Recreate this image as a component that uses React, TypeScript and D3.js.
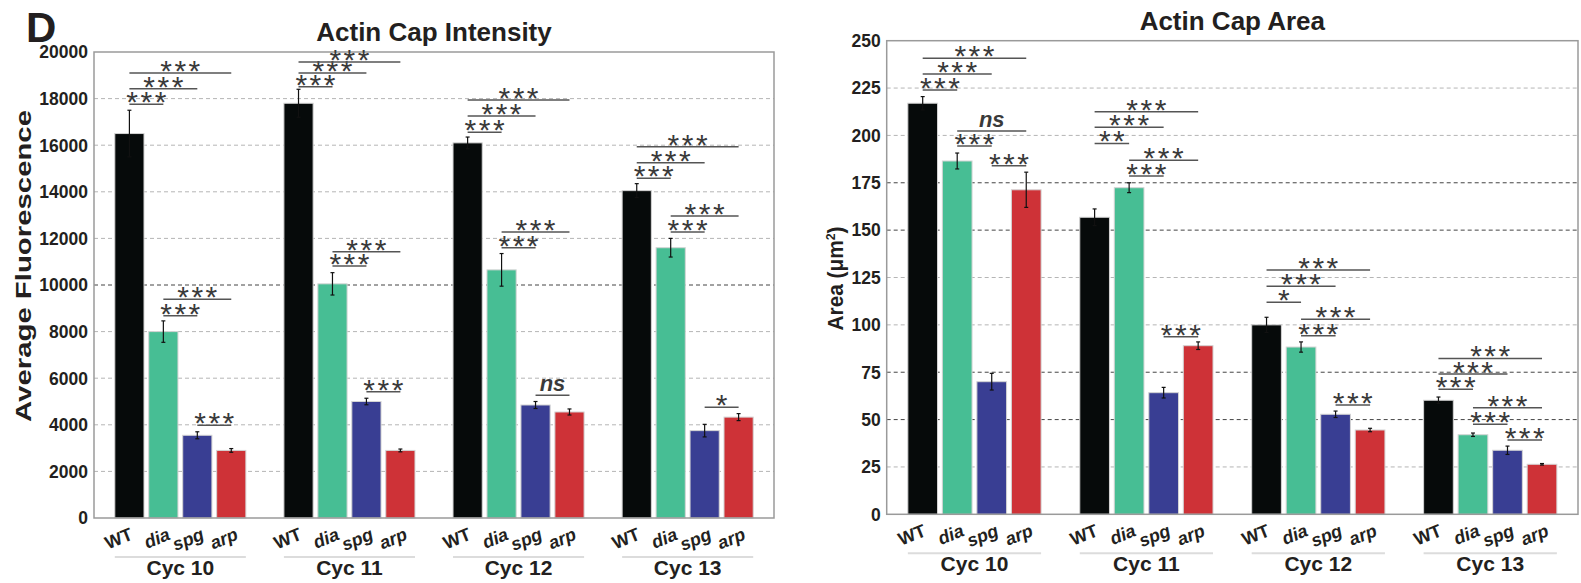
import * as d3 from "d3";

const cycles = ["Cyc 10", "Cyc 11", "Cyc 12", "Cyc 13"];
const genotypes = ["WT", "dia", "spg", "arp"];
const barColors = ["#060a0a", "#47be94", "#393e93", "#ce3237"];

// pairs compared by the brackets, same order as the rows below
const pairs: [number, number][] = [[0, 1], [0, 2], [0, 3], [1, 2], [1, 3], [2, 3]];

const intensityTicks = [0, 2000, 4000, 6000, 8000, 10000, 12000, 14000, 16000, 18000, 20000];
const intensityMean = [
  [16500, 8000, 3550, 2900],
  [17800, 10050, 5000, 2900],
  [16100, 10650, 4850, 4550],
  [14050, 11600, 3750, 4330],
];
const intensityErr = [
  [1000, 460, 150, 80],
  [600, 480, 140, 60],
  [250, 700, 150, 130],
  [300, 400, 270, 150],
];
const intensityBracket = [
  [17755, 18425, 19099, 8682, 9386, 3979],
  [18511, 19099, 19571, 10815, 11429, 5421],
  [16554, 17253, 17940, 11601, 12275, 5266],
  [14579, 15249, 15936, 12275, 12961, 4751],
];
const intensitySig = [
  ["***", "***", "***", "***", "***", "***"],
  ["***", "***", "***", "***", "***", "***"],
  ["***", "***", "***", "***", "***", "ns"],
  ["***", "***", "***", "***", "***", "*"],
];

const areaTicks = [0, 25, 50, 75, 100, 125, 150, 175, 200, 225, 250];
const areaMean = [
  [217, 186.5, 70, 171.3],
  [156.8, 172.4, 64.2, 89],
  [100, 88.3, 52.8, 44.5],
  [60.2, 42, 33.8, 26.4],
];
const areaErr = [
  [3.5, 4.2, 4.4, 9.3],
  [4.4, 2.6, 2.8, 2],
  [4, 2.7, 1.7, 0.9],
  [1.7, 0.9, 2.2, 0.4],
];
const areaBracket = [
  [224, 232.4, 240.7, 194.4, 202.3, 184],
  [195.8, 204.3, 212.5, 178.6, 186.9, 93.7],
  [111.9, 120.4, 129, 94.3, 102.9, 57.7],
  [66, 74.1, 82.3, 47.5, 56.3, 39.2],
];
const areaSig = [
  ["***", "***", "***", "***", "ns", "***"],
  ["**", "***", "***", "***", "***", "***"],
  ["*", "***", "***", "***", "***", "***"],
  ["***", "***", "***", "***", "***", "***"],
];

const FONT = "'Liberation Sans', Arial, sans-serif";
const INK = "#231f20";

type PanelProps = {
  left: number;
  right: number;
  top: number;
  bottom: number;
  title: string;
  yTitle: React.ReactNode;
  yTitleX: number;
  yTitleY: number;
  yTitleLength: number;
  ticks: number[];
  darkTicks: number[];
  mean: number[][];
  err: number[][];
  bracket: number[][];
  sig: string[][];
};

function Panel(p: PanelProps) {
  const max = p.ticks[p.ticks.length - 1];
  const y = d3.scaleLinear().domain([0, max]).range([p.bottom, p.top]);
  const outer = d3.scaleBand().domain(cycles).range([p.left, p.right]).paddingInner(0.225).paddingOuter(0.123);
  const inner = d3.scaleBand().domain(genotypes).range([0, outer.bandwidth()]).paddingInner(0.14);
  const cx = (c: number, g: number) => (outer(cycles[c]) ?? 0) + (inner(genotypes[g]) ?? 0) + inner.bandwidth() / 2;

  return (
    <g fontFamily={FONT}>
      <text x={(p.left + p.right) / 2} y={p.top - 11} textAnchor="middle" fontSize={26} fontWeight="bold" fill={INK}>
        {p.title}
      </text>
      <text
        transform={`translate(${p.yTitleX},${p.yTitleY}) rotate(-90)`}
        textAnchor="middle"
        fontSize={22}
        fontWeight="bold"
        fill={INK}
        textLength={p.yTitleLength}
        lengthAdjust="spacingAndGlyphs"
      >
        {p.yTitle}
      </text>

      {p.ticks.slice(1, -1).map((t) => (
        <line
          key={`g${t}`}
          x1={p.left}
          x2={p.right}
          y1={y(t)}
          y2={y(t)}
          stroke={p.darkTicks.includes(t) ? "#444" : "#b5b5b5"}
          strokeWidth={1}
          strokeDasharray="4,3"
        />
      ))}
      {p.ticks.map((t) => (
        <text key={`t${t}`} x={p.left - 6} y={y(t)} dy="0.36em" textAnchor="end" fontSize={17.5} fontWeight="bold" fill={INK}>
          {t}
        </text>
      ))}

      {cycles.map((cyc, c) =>
        genotypes.map((g, gi) => {
          const x = (outer(cyc) ?? 0) + (inner(g) ?? 0);
          const v = p.mean[c][gi];
          const e = p.err[c][gi];
          const mid = x + inner.bandwidth() / 2;
          return (
            <g key={`${cyc}-${g}`}>
              <rect x={x} y={y(v)} width={inner.bandwidth()} height={p.bottom - y(v)} fill={barColors[gi]} stroke="#d4d4d4" strokeWidth={1} />
              <line x1={mid} x2={mid} y1={y(v + e)} y2={y(v - e)} stroke="#111" strokeWidth={1.2} />
              <line x1={mid - 2} x2={mid + 2} y1={y(v + e)} y2={y(v + e)} stroke="#111" strokeWidth={1.2} />
              <line x1={mid - 2} x2={mid + 2} y1={y(v - e)} y2={y(v - e)} stroke="#111" strokeWidth={1.2} />
            </g>
          );
        })
      )}

      <rect x={p.left} y={p.top} width={p.right - p.left} height={p.bottom - p.top} fill="none" stroke="#9a9a9a" strokeWidth={1.5} />

      {cycles.map((cyc, c) =>
        pairs.map(([a, b], k) => {
          const ly = y(p.bracket[c][k]);
          const x1 = cx(c, a);
          const x2 = cx(c, b);
          const label = p.sig[c][k];
          const isNs = label === "ns";
          return (
            <g key={`b${c}-${k}`}>
              <line x1={x1} x2={x2} y1={ly} y2={ly} stroke="#555" strokeWidth={1.5} />
              <text
                x={(x1 + x2) / 2 + (isNs ? 0 : 1.2)}
                y={isNs ? ly - 4 : ly + 8}
                textAnchor="middle"
                fontSize={isNs ? 22 : 30}
                fontWeight={isNs ? "bold" : "normal"}
                fontStyle={isNs ? "italic" : "normal"}
                letterSpacing={isNs ? 0 : 2.5}
                fill="#3a3a3a"
              >
                {label}
              </text>
            </g>
          );
        })
      )}

      {cycles.map((cyc, c) => {
        const gx = outer(cyc) ?? 0;
        return (
          <g key={`x${cyc}`}>
            {genotypes.map((g, gi) => (
              <text
                key={g}
                transform={`translate(${cx(c, gi) + (gi === 0 ? 4.5 : 8)},${p.bottom + 21}) rotate(-22)`}
                textAnchor="end"
                fontSize={18}
                fontWeight="bold"
                fontStyle={gi === 0 ? "normal" : "italic"}
                fill={INK}
              >
                {g}
              </text>
            ))}
            <line x1={gx} x2={gx + outer.bandwidth()} y1={p.bottom + 39} y2={p.bottom + 39} stroke="#dcdcdc" strokeWidth={2} />
            <text x={gx + outer.bandwidth() / 2} y={p.bottom + 57} textAnchor="middle" fontSize={21} fontWeight="bold" fill={INK}>
              {cyc}
            </text>
          </g>
        );
      })}
    </g>
  );
}

export default function App() {
  return (
    <svg width={1581} height={583} style={{ position: "absolute", left: 0, top: 0, background: "#fff" }}>
      <text x={26} y={42} fontFamily={FONT} fontSize={42} fontWeight="bold" fill={INK}>
        D
      </text>
      <Panel
        left={94}
        right={774}
        top={52}
        bottom={518}
        title="Actin Cap Intensity"
        yTitle="Average Fluorescence"
        yTitleX={31}
        yTitleY={266}
        yTitleLength={312}
        ticks={intensityTicks}
        darkTicks={[10000]}
        mean={intensityMean}
        err={intensityErr}
        bracket={intensityBracket}
        sig={intensitySig}
      />
      <Panel
        left={886.7}
        right={1578}
        top={40.7}
        bottom={514.3}
        title="Actin Cap Area"
        yTitle={
          <>
            Area (μm<tspan dy="-8" fontSize={13}>2</tspan>
            <tspan dy="8">)</tspan>
          </>
        }
        yTitleX={843}
        yTitleY={278.5}
        yTitleLength={104}
        ticks={areaTicks}
        darkTicks={[50, 75, 150, 175]}
        mean={areaMean}
        err={areaErr}
        bracket={areaBracket}
        sig={areaSig}
      />
    </svg>
  );
}
